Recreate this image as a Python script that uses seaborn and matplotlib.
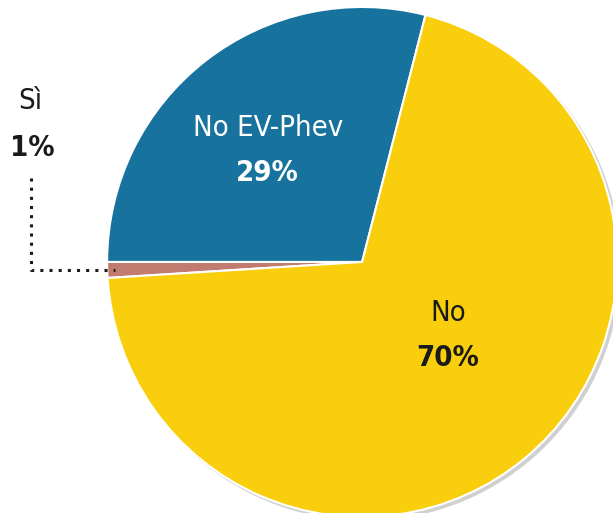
import matplotlib
matplotlib.use("Agg")
import matplotlib.pyplot as plt
import seaborn as sns
from matplotlib.patches import Circle

categories = ["No EV-Phev", "Sì", "No"]
shares = [29, 1, 70]
colors = ["#17739d", "#c27b6f", "#f9cf0d"]

sns.set_theme(style="white")
plt.rcParams["font.family"] = ["DejaVu Sans"]

fig = plt.figure(figsize=(6.13, 5.13), dpi=100)
ax = fig.add_axes([0, 0, 1, 1])

# soft grey shadow behind the pie
ax.add_patch(Circle((0.012, -0.012), 1.0, color="#d0d0d0", zorder=0))

# blue slice ends on the horizontal at 180 degrees
start = 180 - shares[0] / sum(shares) * 360
wedges, _ = ax.pie(shares, colors=colors, startangle=start, counterclock=True,
                   radius=1, wedgeprops=dict(edgecolor="white", linewidth=1.5))

ax.set_xlim(-1.42, 0.984)
ax.set_ylim(-0.984, 1.027)
ax.set_aspect("equal")
ax.axis("off")

fnt = dict(family="DejaVu Sans", stretch="condensed", fontsize=21, ha="center", va="center")
ax.text(-0.37, 0.525, categories[0], color="white", **fnt)
ax.text(-0.37, 0.35, f"{shares[0]}%", color="white", fontweight="bold", **fnt)
ax.text(0.337, -0.2, categories[2], color="#1a1a1a", **fnt)
ax.text(0.337, -0.375, f"{shares[2]}%", color="#1a1a1a", fontweight="bold", **fnt)
ax.text(-1.30, 0.63, categories[1], color="#1a1a1a", **fnt)
ax.text(-1.295, 0.447, f"{shares[1]}%", color="#1a1a1a", fontweight="bold", **fnt)

# dotted leader line to the small slice
ax.plot([-1.30, -1.30, -0.97], [0.33, -0.03, -0.03], color="#1a1a1a",
        linestyle=(0, (1, 2)), linewidth=2.2)

fig.savefig("out.png", dpi=100)
